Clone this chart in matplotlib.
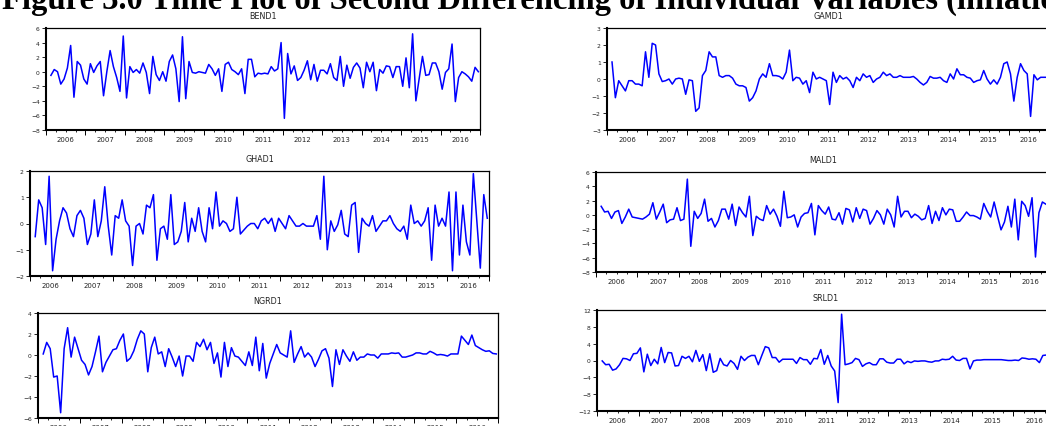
import numpy as np
import matplotlib
matplotlib.use("Agg")
import matplotlib.pyplot as plt
import matplotlib.ticker as mticker
from matplotlib.transforms import blended_transform_factory

W, H = 1046, 427

TITLE = "Figure 3.0 Time Plot of Second Differencing of Individual Variables (inflation)"
YEARS = list(range(2006, 2017))

# second differences, monthly, first obs 2006M02
BEND1 = [-0.5, 0.3, 0.0, -1.7, -1.0, 0.5, 3.6, -3.5, 1.4, 0.9,
         -1.0, -1.7, 1.1, -0.1, 0.8, 1.4, -3.3, 0.0, 2.9, 0.7,
         -0.8, -2.7, 4.9, -3.6, 0.7, -0.1, 0.3, -0.2, 1.2, -0.1,
         -3.0, 2.1, -0.4, -1.2, 0.0, -1.3, 1.4, 2.3, 0.4, -4.1,
         4.8, -3.7, 1.4, -0.1, -0.2, 0.0, -0.1, -0.2, 1.0, 0.4,
         -0.5, 0.4, -2.7, 1.0, 1.3, 0.3, 0.0, -0.4, 0.4, -3.0,
         1.7, 1.7, -0.7, -0.2, -0.3, -0.2, -0.3, 0.7, 0.1, 0.4,
         4.0, -6.4, 2.5, -0.3, 0.8, -1.2, -0.8, 0.2, 1.5, -1.1,
         1.0, -1.3, 0.2, 0.2, -0.3, 1.1, -0.8, -1.2, 2.1, -2.0,
         0.9, -0.9, 0.6, 1.2, 0.5, -2.2, 1.3, 0.0, 1.3, -2.6,
         0.3, -0.2, 0.8, 0.7, -0.8, 0.7, 0.7, -2.0, 1.9, -2.2,
         5.2, -4.0, -1.0, 2.1, -0.5, -0.4, 1.2, 1.2, 0.0, -2.4,
         -0.1, 0.4, 3.8, -4.1, -0.8, 0.0, -0.3, -0.7, -1.3, 0.6,
         0.0]

GAMD1 = [1.0, -1.1, -0.1, -0.4, -0.7, -0.1, -0.1, -0.3, -0.3, -0.4,
         1.6, 0.1, 2.1, 2.0, 0.3, -0.15, -0.1, 0.0, -0.3, 0.0,
         0.05, 0.0, -0.9, -0.05, -0.1, -1.9, -1.7, 0.2, 0.5, 1.6,
         1.3, 1.3, 0.2, 0.1, 0.2, 0.2, 0.05, -0.3, -0.4, -0.4,
         -0.5, -1.3, -1.1, -0.7, 0.0, 0.3, 0.1, 0.9, 0.2, 0.2,
         0.15, 0.0, 0.4, 1.7, -0.1, 0.1, 0.05, -0.3, -0.1, -0.8,
         0.4, 0.0, 0.1, 0.0, -0.1, -1.5, 0.4, -0.2, 0.2, 0.0,
         0.1, -0.1, -0.5, 0.1, -0.1, 0.3, 0.1, 0.2, -0.2, 0.0,
         0.1, 0.4, 0.2, 0.3, 0.1, 0.1, 0.2, 0.1, 0.1, 0.1,
         0.15, 0.0, -0.2, -0.35, -0.2, 0.15, 0.05, 0.05, 0.1, -0.1,
         -0.2, 0.3, 0.0, 0.6, 0.25, 0.25, 0.1, 0.05, -0.2, -0.1,
         -0.05, 0.5, 0.0, -0.3, -0.05, -0.3, 0.1, 0.9, 1.0, 0.3,
         -1.3, 0.1, 0.9, 0.5, 0.3, -2.2, 0.25, -0.05, 0.1, 0.1,
         0.1]

GHAD1 = [-0.5, 0.9, 0.6, -0.8, 1.8, -1.8, -0.6, 0.1, 0.6, 0.4,
         -0.2, -0.5, 0.3, 0.5, 0.2, -0.8, -0.4, 0.9, -0.5, 0.1,
         1.4, -0.1, -1.2, 0.3, 0.2, 0.9, 0.1, -0.1, -1.6, -0.1,
         0.0, -0.4, 0.7, 0.6, 1.1, -1.4, -0.2, -0.1, -0.6, 1.1,
         -0.8, -0.7, -0.3, 0.8, -0.7, 0.2, -0.3, 0.6, -0.3, -0.7,
         0.6, -0.2, 1.2, -0.1, 0.1, 0.0, -0.3, -0.2, 1.0, -0.4,
         -0.25, -0.1, 0.0, 0.0, -0.2, 0.1, 0.2, 0.0, 0.2, -0.3,
         0.2, 0.0, -0.2, 0.3, 0.1, -0.1, -0.1, 0.0, -0.1, -0.1,
         -0.1, 0.3, -0.6, 1.8, -1.0, 0.1, -0.3, -0.05, 0.5, -0.4,
         -0.5, 0.7, 0.8, -1.1, 0.2, 0.0, -0.1, 0.3, -0.3, -0.1,
         0.1, 0.1, 0.3, 0.0, -0.2, -0.3, -0.1, -0.6, 0.7, 0.0,
         0.1, -0.1, 0.1, 0.6, -1.4, 0.7, -0.1, 0.2, -0.1, 1.2,
         -1.8, 1.2, -1.2, 0.7, -0.7, -1.2, 1.9, 0.1, -1.7, 1.1,
         0.2]

MALD1 = [1.2, 0.4, 0.5, -0.5, 0.4, 0.6, -1.2, -0.3, 0.8, -0.3,
         -0.4, -0.5, -0.6, -0.3, 0.1, 1.7, -0.6, 0.4, 1.5, -1.1,
         -0.7, -0.6, 1.0, -0.8, -0.6, 5.0, -4.4, 0.5, -0.5, 0.2,
         2.2, -0.9, -0.5, -1.7, -0.8, 0.8, 0.8, -0.6, 1.5, -1.5,
         1.1, 0.3, -0.3, 2.6, -2.9, -0.2, -0.6, -0.8, 1.3, 0.1,
         0.8, -0.2, -1.6, 3.3, -0.4, -0.3, 0.0, -1.7, -0.3, 0.2,
         0.3, 1.6, -2.8, 1.3, 0.6, 0.1, 1.1, -0.6, -0.7, 0.3,
         -1.3, 0.9, 0.7, -1.0, 1.0, -0.5, 0.8, 0.6, -1.3, -0.5,
         0.6, 0.0, -1.3, 0.8, 0.0, -1.7, 2.6, -0.3, 0.5, 0.5,
         -0.4, 0.1, -0.2, -0.7, -0.5, 1.3, -1.2, 0.5, -0.8, 1.0,
         0.0, 0.8, 0.7, -0.9, -0.9, -0.3, 0.4, -0.1, -0.1, -0.3,
         -0.6, 1.6, 0.5, -0.3, 1.8, -0.2, -2.1, -1.0, 1.2, -1.7,
         2.2, -3.5, 1.9, 1.3, -0.2, 2.4, -5.9, 0.3, 1.8, 1.5]

NGRD1 = [0.1, 1.2, 0.6, -2.1, -2.0, -5.5, 0.6, 2.6, -0.2, 1.7,
         0.6, -0.5, -0.9, -1.9, -1.1, 0.3, 1.8, -1.6, -0.7, -0.1,
         0.5, 0.6, 1.4, 2.0, -0.6, -0.3, 0.4, 1.5, 2.3, 2.0,
         -1.6, 0.7, 1.7, 0.1, 0.3, -1.1, 0.6, -0.2, -1.1, -0.1,
         -2.0, -0.1, -0.1, -0.6, 1.2, 0.8, 1.5, 0.5, 1.2, -0.8,
         0.2, -2.1, 1.2, -1.1, 0.7, -0.1, -0.2, -0.6, -1.0, 0.3,
         -1.0, 1.7, -1.5, 1.1, -2.2, -0.8, 0.1, 1.0, 0.2, 0.0,
         -0.2, 2.3, -0.7, 0.1, 0.8, -0.2, 0.2, -0.2, -1.1, -0.4,
         0.4, 0.6, -0.3, -3.0, 0.5, -0.9, 0.5, -0.1, -0.6, 0.3,
         -0.5, -0.2, -0.2, 0.1, 0.0, 0.0, -0.3, 0.1, 0.1, 0.1,
         0.2, 0.15, 0.2, -0.2, -0.2, -0.1, 0.0, 0.2, 0.2, 0.1,
         0.1, 0.35, 0.2, 0.0, 0.05, 0.0, -0.1, 0.1, 0.1, 0.1,
         1.8, 1.4, 1.0, 1.9, 0.9, 0.7, 0.5, 0.35, 0.4, 0.15,
         0.1]

SRLD1 = [-0.1, -1.0, -0.9, -2.3, -2.0, -1.0, 0.5, 0.4, 0.0, 1.6,
         1.7, 3.0, -2.7, 1.5, -1.2, 0.3, -0.8, 3.1, -0.5, 1.9,
         1.8, -1.3, -1.2, 1.0, 0.5, 1.0, -0.3, 2.4, -0.2, 1.4,
         -2.4, 1.6, -2.8, -2.4, 0.5, -1.0, -1.3, 0.0, -0.7, -2.1,
         1.0, 0.0, 0.8, 1.2, 1.2, -1.0, 1.2, 3.3, 3.0, 0.7,
         0.7, -0.4, 0.3, 0.3, 0.3, 0.3, -0.7, 0.7, 0.2, 0.2,
         -0.9, 0.5, 0.4, 2.6, -0.9, 1.2, -1.3, -2.5, -10.0, 11.0,
         -1.0, -0.8, -0.5, 0.5, 0.2, -1.4, -0.8, -0.5, -1.0, -1.0,
         0.4, 0.4, -0.4, -0.6, -0.6, 0.3, 0.3, -0.8, -0.2, -0.5,
         -0.1, -0.2, -0.1, -0.1, -0.3, -0.4, -0.1, -0.1, 0.3, 0.2,
         0.3, 1.0, 0.1, 0.0, 0.5, 0.5, -2.0, -0.1, 0.1, 0.1,
         0.2, 0.2, 0.2, 0.2, 0.2, 0.2, 0.1, 0.0, 0.0, 0.1,
         0.0, 0.6, 0.5, 0.3, 0.4, 0.3, -0.5, 1.2, 1.3]

# name, values, y range, y step, panel box in pixels (left, top, right, bottom)
PANELS = [
    ("BEND1", BEND1, (-8, 6), 2, (46, 29, 480, 131)),
    ("GAMD1", GAMD1, (-3, 3), 1, (607, 29, 1049, 131)),
    ("GHAD1", GHAD1, (-2, 2), 1, (30, 172, 489, 277)),
    ("MALD1", MALD1, (-8, 6), 2, (596, 173, 1051, 273)),
    ("NGRD1", NGRD1, (-6, 4), 2, (38, 314, 498, 419)),
    ("SRLD1", SRLD1, (-12, 12), 4, (597, 311, 1055, 412)),
]

TXT = "#222222"
plt.rcParams["font.family"] = ["DejaVu Sans"]

fig = plt.figure(figsize=(W / 100, H / 100), dpi=100)
fig.patch.set_facecolor("white")

fig.text(2 / W, 1 - 9 / H, TITLE, fontsize=23.5, fontweight="bold",
         family="Liberation Serif", ha="left", va="baseline", color="black")

for name, vals, ylim, step, (l, t, r, b) in PANELS:
    ax = fig.add_axes([l / W, 1 - b / H, (r - l) / W, (b - t) / H])
    x = 2006 + (1.5 + np.arange(len(vals))) / 12.0
    ax.plot(x, vals, color="#0000FF", linewidth=1.1)

    ax.set_xlim(2006, 2017)
    ax.set_ylim(*ylim)
    ax.set_yticks(np.arange(ylim[0], ylim[1] + step / 2, step))
    ax.xaxis.set_major_locator(mticker.MultipleLocator(1))
    ax.xaxis.set_minor_locator(mticker.MultipleLocator(0.25))
    ax.set_xticklabels([])

    ax.tick_params(axis="y", direction="out", length=3, width=0.6,
                   labelsize=4.3, labelcolor=TXT, pad=1.5)
    ax.tick_params(axis="x", which="major", direction="out", length=3.5, width=0.7)
    ax.tick_params(axis="x", which="minor", direction="out", length=1.6, width=0.6)

    for side in ("left", "bottom"):
        ax.spines[side].set_linewidth(1.5)
    for side in ("top", "right"):
        ax.spines[side].set_linewidth(0.9)

    trans = blended_transform_factory(ax.transData, ax.transAxes)
    for yr in YEARS:
        ax.annotate(str(yr), xy=(yr + 0.5, 0), xycoords=trans,
                    xytext=(0, -4), textcoords="offset points",
                    ha="center", va="top", fontsize=5.0, color=TXT)

    ax.set_title(name, fontsize=5.8, color=TXT, pad=7)

fig.savefig("out.png", dpi=100, facecolor="white")
